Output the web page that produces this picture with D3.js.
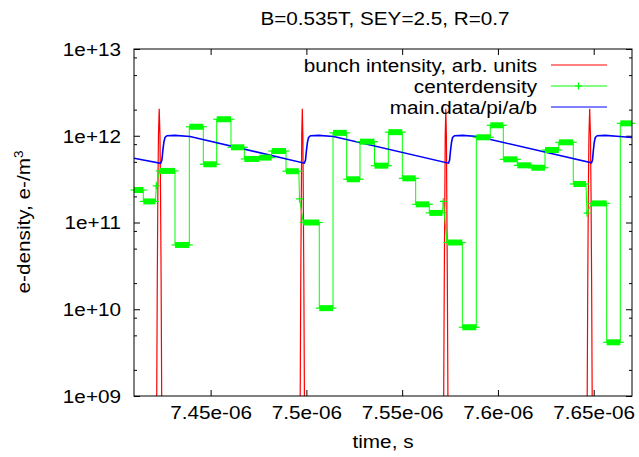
<!DOCTYPE html>
<html><head><meta charset="utf-8">
<script src="https://cdn.jsdelivr.net/npm/d3@7"></script>
<style>
html,body{margin:0;padding:0;background:#fff;}
text{font-family:"Liberation Sans",Arial,Helvetica,sans-serif;font-size:18.5px;fill:#000;}
</style></head>
<body>
<svg id="c" width="639" height="457"></svg>
<script>
// time values in microseconds (axis labels show seconds)
const title = "B=0.535T, SEY=2.5, R=0.7";
const xTickValues = [7.45, 7.5, 7.55, 7.6, 7.65];
const xTickLabels = ["7.45e-06", "7.5e-06", "7.55e-06", "7.6e-06", "7.65e-06"];
const yTickValues = [1e9, 1e10, 1e11, 1e12, 1e13];
const yTickLabels = ["1e+09", "1e+10", "1e+11", "1e+12", "1e+13"];
const yMinorValues = [2e9,5e9,8e9,2e10,5e10,8e10,2e11,5e11,8e11,2e12,5e12,8e12];
const seriesNames = ["bunch intensity, arb. units", "centerdensity", "main.data/pi/a/b"];

// bunch intensity (red)
const redT = [
  7.42146,7.42186,7.42216,7.42246,7.42276,7.42316,7.42356,7.42386,7.42416,7.42446,7.42486,
  7.49627,7.49677,7.49707,7.49737,7.49757,7.49787,7.49817,7.49837,7.49867,7.49897,7.49947,
  7.57119,7.57169,7.57199,7.57229,7.57249,7.57279,7.57309,7.57329,7.57359,7.57389,7.57439,
  7.64621,7.64661,7.64691,7.64721,7.64751,7.64791,7.64831,7.64861,7.64891,7.64921,7.64961
];
const redV = [
  1e7,1e9,2.2e10,2.2e11,1.0e12,2.05e12,1.0e12,2.2e11,2.2e10,1e9,1e7,
  1e7,1e9,2.2e10,2.2e11,1.0e12,2.05e12,1.0e12,2.2e11,2.2e10,1e9,1e7,
  1e7,1e9,2.2e10,2.2e11,1.0e12,2.05e12,1.0e12,2.2e11,2.2e10,1e9,1e7,
  1e7,1e9,2.2e10,2.2e11,1.0e12,2.05e12,1.0e12,2.2e11,2.2e10,1e9,1e7
];

// centerdensity (green): plateaus
const greenStart = [7.41000,7.41486,
  7.42331,7.43141,7.43887,7.44618,7.45318,7.46064,7.46759,7.47542,7.48189,7.48936,
  7.49839,7.50674,7.51390,7.52105,7.52799,7.53556,7.54277,7.55008,7.55707,7.56417,
  7.57341,7.58140,7.58871,7.59602,7.60281,7.61011,7.61742,7.62458,7.63178,7.63935,
  7.64896,7.65679,7.66389];
const greenEnd = [7.41486,7.42122,
  7.43141,7.43887,7.44618,7.45318,7.46064,7.46759,7.47542,7.48189,7.48936,7.49604,
  7.50674,7.51390,7.52105,7.52799,7.53556,7.54277,7.55008,7.55707,7.56417,7.57106,
  7.58140,7.58871,7.59602,7.60281,7.61011,7.61742,7.62458,7.63178,7.63935,7.64598,
  7.65679,7.66389,7.67000];
const greenValue = [2.37e11,1.75e11,
  3.93e11,5.51e10,1.27e12,4.69e11,1.55e12,7.36e11,5.40e11,5.60e11,6.67e11,3.90e11,
  1.00e11,1.03e10,1.08e12,3.15e11,8.55e11,4.52e11,1.10e12,3.23e11,1.62e11,1.29e11,
  5.88e10,6.2e9,9.6e11,1.32e12,5.35e11,4.56e11,4.28e11,6.85e11,8.4e11,2.78e11,
  1.66e11,4.16e9,1.39e12];
const greenIsoT = [7.42164, 7.49641, 7.57148, 7.64650];
const greenIsoV = [2.65e11, 1.87e11, 1.75e11, 1.28e11];

// main.data/pi/a/b (blue)
const blueT = [7.41000,
  7.42394,7.42457,7.42509,7.42561,7.42618,7.42723,7.43141,7.43924,
  7.49891,7.49954,7.50006,7.50058,7.50116,7.50220,7.50638,7.51421,
  7.57420,7.57477,7.57529,7.57581,7.57634,7.57738,7.58156,7.58939,
  7.64885,7.64938,7.64985,7.65032,7.65084,7.65188,7.65606,7.66373,7.67000];
const blueV = [5.5e11,
  4.81e11,5.25e11,6.86e11,8.47e11,9.55e11,1.0e12,1.01e12,9.8e11,
  4.83e11,5.25e11,6.86e11,8.47e11,9.55e11,1.0e12,1.01e12,9.8e11,
  4.83e11,5.25e11,6.86e11,8.47e11,9.55e11,1.0e12,1.01e12,9.8e11,
  4.88e11,5.25e11,6.86e11,8.47e11,9.55e11,1.0e12,1.01e12,9.8e11,9.55e11];

const colors = ["#ff0000", "#00ff00", "#0000ff"];
const FX = 1.12; // horizontal text stretch

const svg = d3.select("#c");
const L = 134, R = 632, T = 49, B = 396;
const x = d3.scaleLinear().domain([7.41, 7.67]).range([L, R]);
const y = d3.scaleLog().domain([1e9, 1e13]).range([B, T]);

svg.append("defs").append("clipPath").attr("id", "clip")
  .append("rect").attr("x", L).attr("y", T).attr("width", R - L).attr("height", B - T);

function txt(px, py, s, anchor, rot) {
  const g = svg.append("g").attr("transform", `translate(${px},${py}) rotate(${rot || 0}) scale(${FX},1)`);
  return g.append("text").attr("text-anchor", anchor).text(s);
}

// axes
const gx = svg.append("g").attr("transform", `translate(0,${B})`)
  .call(d3.axisBottom(x).tickValues(xTickValues).tickSize(-6).tickFormat((d, i) => xTickLabels[i]));
gx.selectAll("text").attr("y", 23).attr("dy", 0).attr("transform", `scale(${FX},1)`)
  .style("font-size", "18.5px").style("font-family", "Liberation Sans, Arial, sans-serif");
svg.append("g").attr("transform", `translate(0,${T})`)
  .call(d3.axisTop(x).tickValues(xTickValues).tickSize(-6).tickFormat(""));
const gy = svg.append("g").attr("transform", `translate(${L},0)`)
  .call(d3.axisLeft(y).tickValues(yTickValues).tickSize(-6).tickFormat((d, i) => yTickLabels[i]));
gy.selectAll("text").attr("x", -13 / FX).attr("dy", "0.35em").attr("transform", `scale(${FX},1)`)
  .style("font-size", "18.5px").style("font-family", "Liberation Sans, Arial, sans-serif");
svg.append("g").attr("transform", `translate(${L},0)`)
  .call(d3.axisLeft(y).tickValues(yMinorValues).tickSize(-3).tickFormat(""));
svg.append("g").attr("transform", `translate(${R},0)`)
  .call(d3.axisRight(y).tickValues(yTickValues).tickSize(-6).tickFormat(""));
svg.append("g").attr("transform", `translate(${R},0)`)
  .call(d3.axisRight(y).tickValues(yMinorValues).tickSize(-3).tickFormat(""));
svg.selectAll(".domain").remove();
svg.selectAll(".tick line").attr("stroke", "#000");

// plot layer
const plot = svg.append("g").attr("clip-path", "url(#clip)");
const line = d3.line().x(d => x(d[0])).y(d => y(d[1]));

// red
plot.append("path").datum(redT.map((t, i) => [t, redV[i]]))
  .attr("d", line).attr("fill", "none").attr("stroke", colors[0]).attr("stroke-width", 1.2);

// green line through plateau ends and isolated points
const gpts = [];
greenStart.forEach((s, i) => { gpts.push([s, greenValue[i]]); gpts.push([greenEnd[i], greenValue[i]]); });
greenIsoT.forEach((t, i) => gpts.push([t, greenIsoV[i]]));
gpts.sort((a, b) => a[0] - b[0]);
plot.append("path").datum(gpts).attr("d", line).attr("fill", "none")
  .attr("stroke", colors[1]).attr("stroke-width", 1);

// green markers (dense '+' points form bars)
const gm = svg.append("g");
greenStart.forEach((s, i) => {
  const x0 = x(s), x1 = x(greenEnd[i]), yy = y(greenValue[i]);
  gm.append("rect").attr("x", x0).attr("y", yy - 3).attr("width", x1 - x0).attr("height", 6).attr("fill", colors[1]);
  gm.append("line").attr("x1", x0 - 3.5).attr("x2", x1 + 3.5).attr("y1", yy).attr("y2", yy)
    .attr("stroke", colors[1]).attr("stroke-width", 1.2);
});
greenIsoT.forEach((t, i) => {
  const cx = x(t), cy = y(greenIsoV[i]);
  gm.append("path").attr("d", `M${cx - 3.5},${cy}H${cx + 3.5}M${cx},${cy - 3.5}V${cy + 3.5}`)
    .attr("stroke", colors[1]).attr("stroke-width", 1.2);
});

// blue
plot.append("path").datum(blueT.map((t, i) => [t, blueV[i]]))
  .attr("d", line).attr("fill", "none").attr("stroke", colors[2]).attr("stroke-width", 1.6);

// frame
svg.append("rect").attr("x", L).attr("y", T).attr("width", R - L).attr("height", B - T)
  .attr("fill", "none").attr("stroke", "#000").attr("stroke-width", 1);

// legend
const legY = [65, 86, 107];
seriesNames.forEach((n, i) => {
  txt(537, legY[i] + 6.5, n, "end");
  svg.append("line").attr("x1", 551).attr("x2", 607).attr("y1", legY[i]).attr("y2", legY[i])
    .attr("stroke", colors[i]).attr("stroke-width", 1);
});
svg.append("path").attr("d", `M${575},${legY[1]}H${582}M${578.5},${legY[1] - 3.5}V${legY[1] + 3.5}`)
  .attr("stroke", colors[1]).attr("stroke-width", 1.2);

// titles
txt(385, 25, title, "middle");
txt(383, 448, "time, s", "middle");
const yl = txt(30, 222, "e-density, e-/m", "middle", -90);
yl.append("tspan").attr("dy", -7).style("font-size", "12px").text("3");
</script>
</body></html>
